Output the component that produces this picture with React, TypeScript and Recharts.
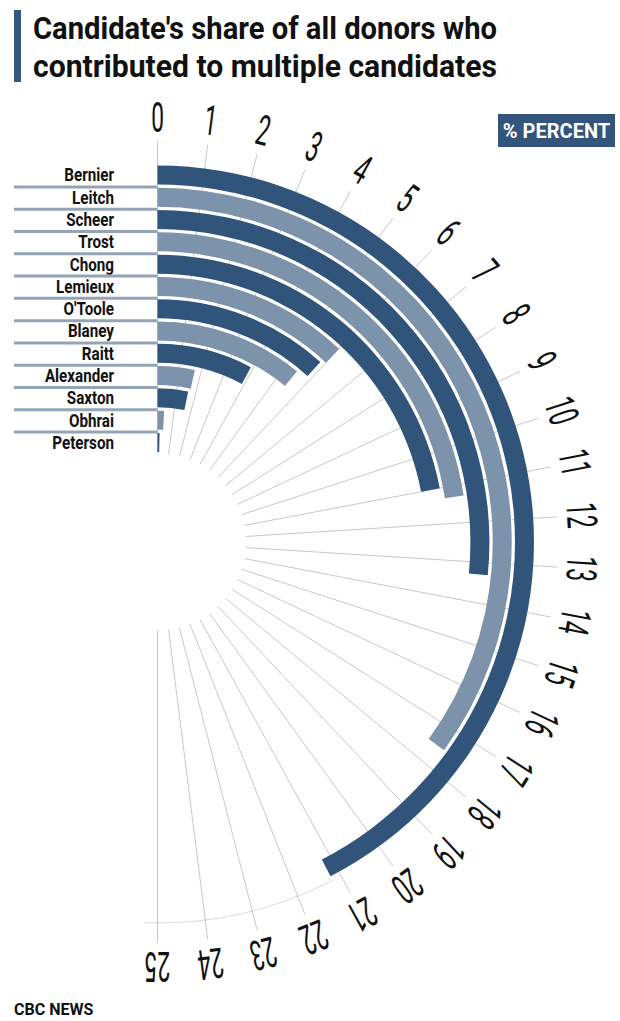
import { RadialBarChart, RadialBar, PolarAngleAxis, PolarRadiusAxis, PolarGrid, Cell } from 'recharts'

// outer ring first
const candidates = [
  'Bernier', 'Leitch', 'Scheer', 'Trost', 'Chong', 'Lemieux', "O'Toole",
  'Blaney', 'Raitt', 'Alexander', 'Saxton', 'Obhrai', 'Peterson',
]
const shares = [21.2, 17.5, 13.3, 11.3, 11.0, 6.0, 5.85, 5.45, 3.9, 1.7, 1.6, 0.4, 0.15]
const percentTicks = Array.from({ length: 26 }, (_, i) => i)

const DARK = '#31547b'
const LIGHT = '#7d93ac'
const FONT = 'Roboto, "Noto Sans", sans-serif'

// recharts puts the first category innermost, so flip; the blank row leaves room
// between the outer bar and the percent labels
const rows = candidates
  .map((name, i) => ({ name, value: shares[i], fill: i % 2 === 0 ? DARK : LIGHT }))
  .reverse()
rows.push({ name: '', value: 0, fill: 'none' })

const CX = 157.5
const CY = 542
const MAX = 25
const DEG_PER_UNIT = 180 / MAX

function PercentTick({ x, y, payload }: any) {
  const v = payload.value
  return (
    <text
      transform={`translate(${x},${y}) rotate(${v * DEG_PER_UNIT}) scale(0.54,1)`}
      textAnchor="middle"
      dy="0.36em"
      fontFamily={FONT}
      fontSize={42}
      fill="#111"
    >
      {v}
    </text>
  )
}

function NameTick({ y, payload, index }: any) {
  if (!payload.value) return null
  return (
    <g>
      <text
        transform={`translate(114,${y + 6.5}) scale(0.8,1)`}
        textAnchor="end"
        fontFamily={FONT}
        fontWeight="bold"
        fontSize={19}
        fill="#111"
      >
        {payload.value}
      </text>
      {index > 0 && (
        <line x1={14} x2={CX} y1={y + 12} y2={y + 12} stroke="#93a4b7" strokeWidth={3} />
      )}
    </g>
  )
}

// faint trace of the outer ring past the end of the longest bar
function tailArc(r: number, fromValue: number, toDeg: number) {
  const a0 = (fromValue * DEG_PER_UNIT * Math.PI) / 180
  const a1 = (toDeg * Math.PI) / 180
  const p = (a: number) => `${CX + r * Math.sin(a)},${CY - r * Math.cos(a)}`
  return `M${p(a0)} A${r},${r} 0 0 1 ${p(a1)}`
}

export default function App() {
  return (
    <div
      style={{
        position: 'absolute',
        left: 0,
        top: 0,
        width: 620,
        height: 1021,
        background: '#fff',
        overflow: 'hidden',
      }}
    >
      <RadialBarChart
        width={620}
        height={1021}
        data={rows}
        cx={CX}
        cy={CY}
        innerRadius={88.5}
        outerRadius={400.5}
        startAngle={90}
        endAngle={-90}
        barCategoryGap="7%"
        margin={{ top: 0, right: 0, bottom: 0, left: 0 }}
      >
        <PolarAngleAxis
          type="number"
          domain={[0, MAX]}
          ticks={percentTicks}
          tickCount={26}
          axisLine={false}
          tickLine={false}
          tickSize={25}
          tick={PercentTick}
        />
        <PolarRadiusAxis
          type="category"
          dataKey="name"
          angle={90}
          axisLine={false}
          tickLine={false}
          tick={NameTick}
        />
        <RadialBar dataKey="value" isAnimationActive={false}>
          {rows.map((r, i) => (
            <Cell key={i} fill={r.fill} />
          ))}
        </RadialBar>
        <PolarGrid gridType="circle" polarRadius={[]} stroke="#000" strokeOpacity={0.22} />
      </RadialBarChart>

      <svg width={620} height={1021} style={{ position: 'absolute', left: 0, top: 0, pointerEvents: 'none' }}>
        <path d={tailArc(381, shares[0], 182)} fill="none" stroke="#000" strokeOpacity={0.15} />
        <rect x={14} y={10} width={7} height={72} fill="#36577f" />
        <text x={33} y={39} textLength={464} lengthAdjust="spacingAndGlyphs" fontFamily={FONT} fontWeight="bold" fontSize={31} fill="#111">
          Candidate's share of all donors who
        </text>
        <text x={33} y={77} textLength={464} lengthAdjust="spacingAndGlyphs" fontFamily={FONT} fontWeight="bold" fontSize={31} fill="#111">
          contributed to multiple candidates
        </text>
        <rect x={498} y={114} width={117} height={33} fill="#33557c" />
        <text x={556.5} y={138} textAnchor="middle" fontFamily={FONT} fontWeight="bold" fontSize={20} fill="#fff">
          % PERCENT
        </text>
        <text x={14} y={1015} fontFamily={FONT} fontWeight="bold" fontSize={16} fill="#111">
          CBC NEWS
        </text>
      </svg>
    </div>
  )
}
